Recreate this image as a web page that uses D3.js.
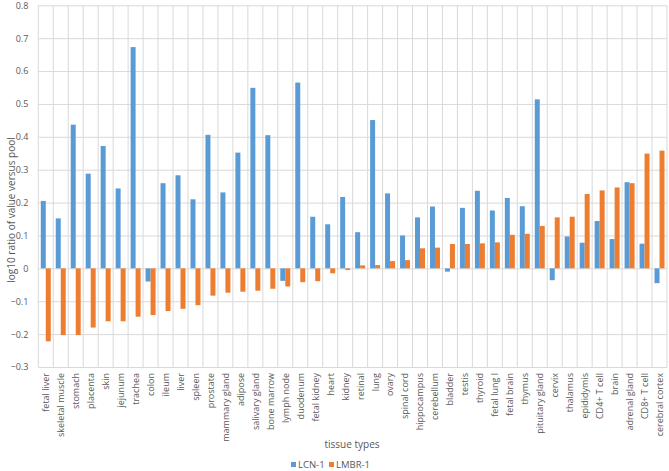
<!DOCTYPE html>
<html>
<head>
<meta charset="utf-8">
<script src="https://cdn.jsdelivr.net/npm/d3@7"></script>
<style>
  body { margin: 0; background: #fff; }
  svg text { font-family: "Open Sans", "Liberation Sans", sans-serif; fill: #595959; }
</style>
</head>
<body>
<svg id="chart" width="669" height="471"></svg>
<script>
const categories = ["fetal liver","skeletal muscle","stomach","placenta","skin","jejunum","trachea","colon","ileum","liver","spleen","prostate","mammary gland","adipose","salivary gland","bone marrow","lymph node","duodenum","fetal kidney","heart","kidney","retinal","lung","ovary","spinal cord","hippocampus","cerebellum","bladder","testis","thyroid","fetal lung l","fetal brain","thymus","pituitary gland","cervix","thalamus","epididymis","CD4+ T cell","brain","adrenal gland","CD8+ T cell","cerebral cortex"];
const lcn1 = [0.205,0.152,0.437,0.288,0.372,0.243,0.673,-0.04,0.259,0.283,0.21,0.406,0.231,0.352,0.549,0.405,-0.038,0.565,0.157,0.134,0.217,0.11,0.451,0.228,0.10,0.155,0.188,-0.01,0.184,0.236,0.176,0.214,0.189,0.514,-0.036,0.097,0.078,0.144,0.089,0.262,0.075,-0.045];
const lmbr1 = [-0.222,-0.203,-0.203,-0.18,-0.161,-0.161,-0.147,-0.142,-0.13,-0.123,-0.112,-0.083,-0.074,-0.071,-0.068,-0.062,-0.055,-0.042,-0.039,-0.015,-0.005,0.009,0.01,0.022,0.025,0.061,0.063,0.074,0.074,0.076,0.079,0.102,0.105,0.129,0.155,0.157,0.226,0.237,0.246,0.259,0.349,0.358];
const yTicks = [-0.3,-0.2,-0.1,0,0.1,0.2,0.3,0.4,0.5,0.6,0.7,0.8];
const seriesNames = ["LCN-1","LMBR-1"];
const colors = ["#5B9BD5","#ED7D31"];

(function () {
const svg = d3.select("#chart");
const pLeft = 38.3, pRight = 667, pTop = 5.3, pBottom = 367;
const x = d3.scaleBand().domain(categories).range([pLeft, pRight]).paddingInner(0).paddingOuter(0);
const y = d3.scaleLinear().domain([-0.3, 0.8]).range([pBottom, pTop]);
const xs = d3.scaleBand().domain(seriesNames).range([0, x.bandwidth()]).paddingInner(0).paddingOuter(0.5);

// horizontal grid
const yAxis = d3.axisLeft(y).tickValues(yTicks).tickSize(-(pRight - pLeft)).tickFormat(d => d === 0 ? "0" : d3.format(".1f")(d));
const gy = svg.append("g").attr("transform", `translate(${pLeft},0)`).call(yAxis);
gy.select(".domain").remove();
gy.selectAll(".tick line").attr("stroke", "#d9d9d9").attr("stroke-width", 1);
gy.selectAll(".tick text").attr("x", -10).style("font-size", "9px").attr("fill", "#595959");

// vertical grid lines (category boundaries)
const bounds = categories.map(c => x(c)).concat([pRight]);
svg.append("g").selectAll("line").data(bounds).join("line")
  .attr("x1", d => d).attr("x2", d => d).attr("y1", pTop).attr("y2", pBottom)
  .attr("stroke", "#d9d9d9").attr("stroke-width", 1);

// bars
const data = [];
categories.forEach((c, i) => {
  data.push({c, s: seriesNames[0], v: lcn1[i]});
  data.push({c, s: seriesNames[1], v: lmbr1[i]});
});
svg.append("g").selectAll("rect").data(data).join("rect")
  .attr("x", d => x(d.c) + xs(d.s))
  .attr("width", xs.bandwidth())
  .attr("y", d => y(Math.max(0, d.v)))
  .attr("height", d => Math.abs(y(d.v) - y(0)))
  .attr("fill", d => colors[seriesNames.indexOf(d.s)]);

// x labels
const gx = svg.append("g");
gx.selectAll("text").data(categories).join("text")
  .attr("transform", d => `translate(${x(d) + x.bandwidth()/2 + 1},${pBottom + 6}) rotate(-90)`)
  .attr("text-anchor", "end")
  .attr("dominant-baseline", "middle")
  .style("font-size", "9px")
  .text(d => d);

// axis titles
svg.append("text").attr("x", 352).attr("y", 448).attr("text-anchor", "middle")
  .style("font-size", "10px").text("tissue types");
svg.append("text").attr("transform", "translate(15,210) rotate(-90)").attr("text-anchor", "middle")
  .style("font-size", "10px").text("log10 ratio of value versus pool");

// legend
const legend = svg.append("g");
const lx = [291, 329];
seriesNames.forEach((n, i) => {
  legend.append("rect").attr("x", lx[i]).attr("y", 462).attr("width", 5).attr("height", 5).attr("fill", colors[i]);
  legend.append("text").attr("x", lx[i] + 7).attr("y", 465).attr("dominant-baseline", "middle")
    .style("font-size", "9.5px").text(n);
});
})();
</script>
</body>
</html>
